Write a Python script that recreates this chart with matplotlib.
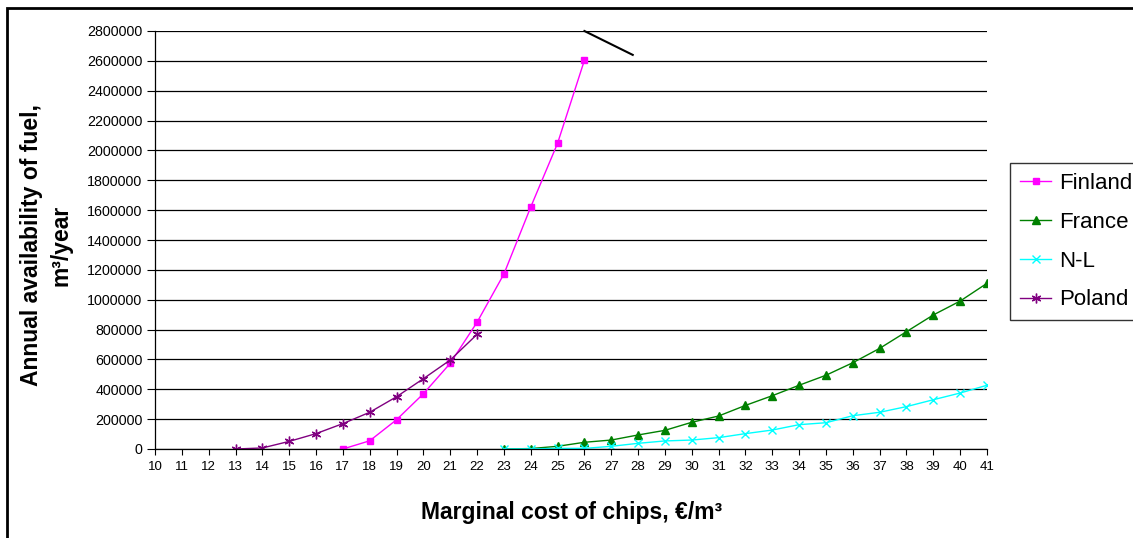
import matplotlib.pyplot as plt
from matplotlib.patches import Rectangle

plt.rcParams['font.family'] = ['Liberation Sans', 'DejaVu Sans']

# marginal cost of chips, EUR/m3
finland_x = [17, 18, 19, 20, 21, 22, 23, 24, 25, 26]
finland_y = [0, 55000, 196000, 370000, 574000, 849000, 1172000, 1621000, 2048000, 2604000]

france_x = list(range(23, 42))
france_y = [0, 3000, 18000, 45000, 60000, 94000, 125000, 179000, 221000, 292000,
            357000, 427000, 494000, 578000, 674000, 786000, 898000, 991000, 1110000]

nl_x = list(range(23, 42))
nl_y = [0, 1000, 4000, 4000, 18000, 38000, 54000, 60000, 76000, 103000,
        127000, 163000, 176000, 223000, 246000, 284000, 330000, 375000, 427000]

poland_x = list(range(13, 23))
poland_y = [0, 7000, 51000, 103000, 170000, 246000, 350000, 471000, 596000, 768000]

x_ticks = list(range(10, 42))
y_ticks = list(range(0, 2800001, 200000))

# stray line drawn on the original chart (data coords)
stray_x = [26.0, 27.8]
stray_y = [2800000, 2640000]

fig = plt.figure(figsize=(11.33, 5.38), dpi=100)
ax = fig.add_axes([155/1133, 1 - 449/538, (987 - 155)/1133, (449 - 31)/538])

ax.plot(finland_x, finland_y, color='#ff00ff', lw=1, marker='s', ms=5, label='Finland')
ax.plot(france_x, france_y, color='#008000', lw=1, marker='^', ms=6, label='France')
ax.plot(nl_x, nl_y, color='#00ffff', lw=1, marker='x', ms=6, mew=1, label='N-L')
ax.plot(poland_x, poland_y, color='#800080', lw=1, marker=(6, 2, 0), ms=7, mew=1, label='Poland')

ax.plot(stray_x, stray_y, color='black', lw=1.5, clip_on=False)

ax.set_xlim(10, 41)
ax.set_ylim(0, 2800000)
ax.set_xticks(x_ticks)
ax.set_yticks(y_ticks)
ax.set_yticklabels([str(v) for v in y_ticks])
ax.grid(axis='y', color='black', lw=0.9)
ax.set_axisbelow(True)
ax.tick_params(axis='y', direction='out', length=6, width=0.8, labelsize=10.3, pad=3)
ax.tick_params(axis='x', direction='out', length=4, width=0.8, labelsize=9.5, pad=5)
for s in ['top', 'right']:
    ax.spines[s].set_visible(False)
for s in ['left', 'bottom']:
    ax.spines[s].set_linewidth(0.9)

fig.text(572/1133, 1 - 513/538, 'Marginal cost of chips, €/m³', ha='center', va='center',
         fontsize=16.5, fontweight='bold')
fig.text(46/1133, 1 - 245/538, 'Annual availability of fuel,\nm³/year', ha='center', va='center',
         rotation=90, fontsize=16.5, fontweight='bold', linespacing=1.35)

leg = fig.legend(loc='upper left', bbox_to_anchor=(1010/1133, 1 - 163/538), fontsize=16,
                 frameon=True, fancybox=False, edgecolor='black', handlelength=1.4,
                 handletextpad=0.35, labelspacing=0.8, borderpad=0.45, borderaxespad=0)
leg.get_frame().set_linewidth(1)

fig.patches.append(Rectangle((7/1133, -0.1), 1.2, 1 - 8/538 + 0.1, transform=fig.transFigure,
                             fill=False, edgecolor='black', lw=2))

fig.savefig('out.png', dpi=100)
